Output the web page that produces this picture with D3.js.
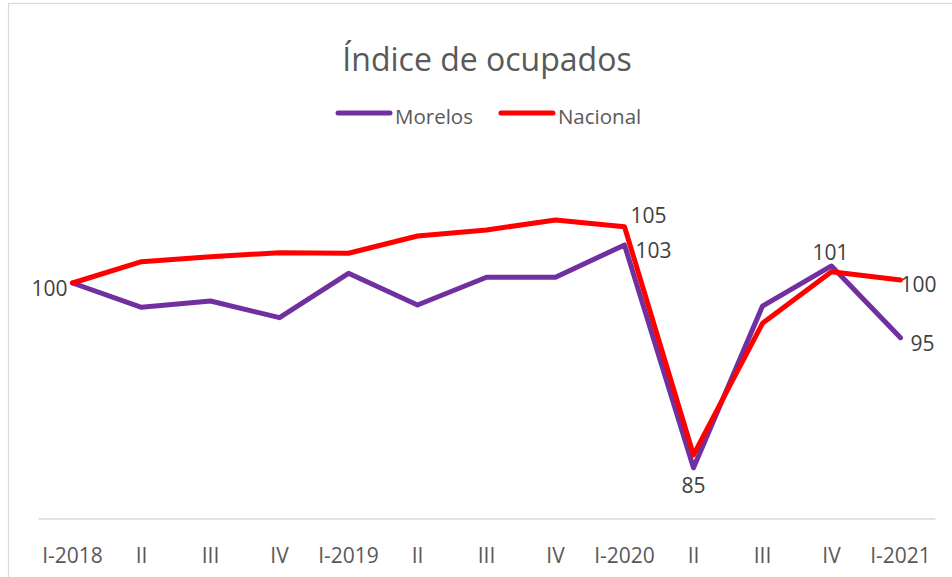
<!DOCTYPE html>
<html>
<head>
<meta charset="utf-8">
<script src="https://cdn.jsdelivr.net/npm/d3@7"></script>
<style>
  html, body { margin: 0; padding: 0; background: #ffffff; }
  svg { display: block; font-family: "Open Sans", "Noto Sans", sans-serif; }
</style>
</head>
<body>
<svg id="chart" width="952" height="577"></svg>
<script>
// ---- data ----
const categories = ["I-2018", "II", "III", "IV", "I-2019", "II", "III", "IV", "I-2020", "II", "III", "IV", "I-2021"];
const morelos  = [100, 97.97, 98.5, 97.11, 100.81, 98.17, 100.48, 100.48, 103.17, 84.6, 98.08, 101.42, 95.44];
const nacional = [100, 101.78, 102.19, 102.53, 102.48, 103.92, 104.42, 105.25, 104.69, 85.67, 96.64, 100.94, 100.25];
const seriesNames = ["Morelos", "Nacional"];
const title = "Índice de ocupados";

// ---- layout / style ----
const W = 952, H = 577;
const colors = { Morelos: "#7030A0", Nacional: "#FF0000" };
const plot = { left: 38, right: 935, top: 163, bottom: 523, axisY: 518.5 };
// data label placement (series, point index, offsets, anchor)
const labelSpecs = [
  { s: "Morelos",  i: 0,  dx: -5, dy: 13, anchor: "end" },
  { s: "Nacional", i: 8,  dx: 6,  dy: -4, anchor: "start" },
  { s: "Morelos",  i: 8,  dx: 11, dy: 13, anchor: "start" },
  { s: "Morelos",  i: 9,  dx: 0,  dy: 25, anchor: "middle" },
  { s: "Morelos",  i: 11, dx: -1, dy: -6, anchor: "middle" },
  { s: "Nacional", i: 12, dx: 0,  dy: 12, anchor: "start" },
  { s: "Morelos",  i: 12, dx: 10, dy: 13, anchor: "start" }
];

const svg = d3.select("#chart");

// chart area border
svg.append("rect")
  .attr("x", 8.5).attr("y", 3.5)
  .attr("width", W + 20).attr("height", H + 20)
  .attr("fill", "#ffffff").attr("stroke", "#D9D9D9").attr("stroke-width", 1.2);

const x = d3.scaleBand().domain(d3.range(categories.length)).range([plot.left, plot.right]).padding(0);
const y = d3.scaleLinear().domain([80, 110]).range([plot.bottom, plot.top]);
const cx = i => x(i) + x.bandwidth() / 2;

// x axis
const xAxis = d3.axisBottom(x).tickSize(0).tickPadding(0).tickFormat(i => categories[i]);
const gx = svg.append("g").attr("transform", `translate(0,${plot.axisY})`).call(xAxis);
gx.select(".domain").attr("stroke", "#D9D9D9").attr("stroke-width", 1.6);
gx.selectAll("text")
  .attr("y", 44).attr("dy", null)
  .attr("fill", "#595959")
  .style("font-size", "21px")
  .style("font-family", "'Open Sans', sans-serif");

// title
svg.append("text")
  .attr("x", 487).attr("y", 71)
  .attr("text-anchor", "middle")
  .attr("fill", "#595959")
  .style("font-size", "32px")
  .text(title);

// legend
const legend = svg.append("g");
let lx = 336;
seriesNames.forEach(name => {
  legend.append("line")
    .attr("x1", lx + 2).attr("x2", lx + 54)
    .attr("y1", 113).attr("y2", 113)
    .attr("stroke", colors[name]).attr("stroke-width", 5).attr("stroke-linecap", "round");
  const t = legend.append("text")
    .attr("x", lx + 59).attr("y", 124)
    .attr("fill", "#595959")
    .style("font-size", "20.5px")
    .text(name);
  lx = lx + 59 + t.node().getComputedTextLength() + 26;
});

// lines
const seriesData = { Morelos: morelos, Nacional: nacional };
const line = d3.line().x((d, i) => cx(i)).y(d => y(d));
seriesNames.forEach(name => {
  svg.append("path")
    .datum(seriesData[name])
    .attr("d", line)
    .attr("fill", "none")
    .attr("stroke", colors[name])
    .attr("stroke-width", 5)
    .attr("stroke-linejoin", "round")
    .attr("stroke-linecap", "round");
});

// data labels
labelSpecs.forEach(l => {
  const v = seriesData[l.s][l.i];
  svg.append("text")
    .attr("x", cx(l.i) + l.dx)
    .attr("y", y(v) + l.dy)
    .attr("text-anchor", l.anchor)
    .attr("fill", "#404040")
    .style("font-size", "21px")
    .text(d3.format(".0f")(v));
});
</script>
</body>
</html>
